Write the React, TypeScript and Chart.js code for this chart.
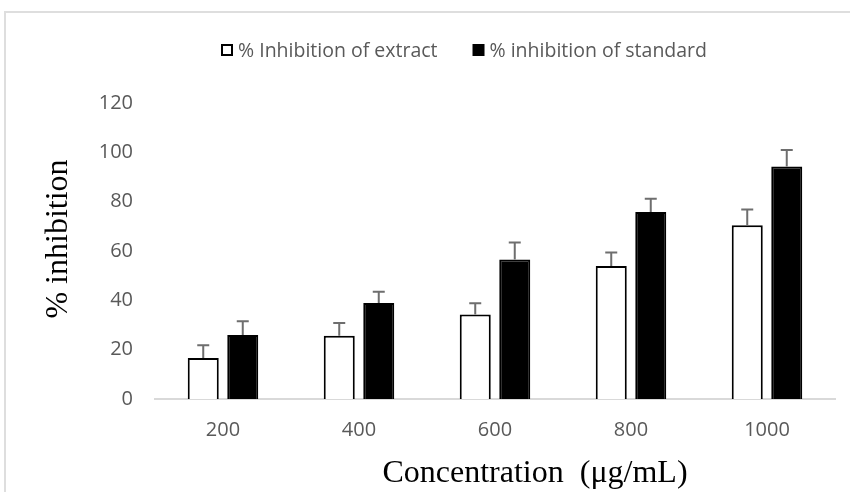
import React, { useEffect, useRef } from 'react';
import { Chart, registerables } from 'chart.js';

Chart.register(...registerables);

const categories = ['200', '400', '600', '800', '1000'];
const extractValues = [16.6, 25.6, 34.3, 53.9, 70.4];
const extractErrors = [5.2, 5.2, 4.5, 5.5, 6.4];
const standardValues = [25.9, 38.9, 56.6, 75.8, 94.3];
const standardErrors = [5.6, 4.6, 6.8, 5.4, 6.6];
const yTicks = [0, 20, 40, 60, 80, 100, 120];
const seriesNames = ['% Inhibition of extract', '% inhibition of standard'];
const xTitle = 'Concentration  (\u03bcg/mL)';
const yTitle = '% inhibition';

const TEXT_GRAY = '#595959';
const SANS = "'Open Sans', sans-serif";
const SERIF = "'Liberation Serif', 'Times New Roman', serif";

const errorBarPlugin = {
  id: 'errorBars',
  afterDatasetsDraw(chart: any) {
    const ctx = chart.ctx;
    const yScale = chart.scales.y;
    chart.data.datasets.forEach((ds: any, di: number) => {
      const meta = chart.getDatasetMeta(di);
      meta.data.forEach((bar: any, i: number) => {
        const top = yScale.getPixelForValue(ds.data[i] + ds.errors[i]);
        ctx.save();
        ctx.strokeStyle = '#6e6e6e';
        ctx.lineWidth = 2;
        ctx.beginPath();
        ctx.moveTo(bar.x, bar.y);
        ctx.lineTo(bar.x, top);
        ctx.moveTo(bar.x - 6, top);
        ctx.lineTo(bar.x + 6, top);
        ctx.stroke();
        ctx.restore();
      });
    });
  },
};

const titlesPlugin = {
  id: 'customTitles',
  afterDraw(chart: any) {
    const ctx = chart.ctx;
    const area = chart.chartArea;
    ctx.save();
    ctx.fillStyle = '#000000';
    ctx.font = `32px ${SERIF}`;
    ctx.textAlign = 'center';
    ctx.textBaseline = 'alphabetic';
    ctx.fillText(xTitle, (area.left + area.right) / 2 + 40, 482);
    ctx.translate(59, (area.top + area.bottom) / 2 - 12);
    ctx.rotate(-Math.PI / 2);
    ctx.textBaseline = 'middle';
    ctx.fillText(yTitle, 0, 0);
    ctx.restore();
  },
};

const legendPlugin = {
  id: 'customLegend',
  afterDraw(chart: any) {
    const ctx = chart.ctx;
    ctx.save();
    ctx.font = `19.5px ${SANS}`;
    ctx.textBaseline = 'middle';
    ctx.textAlign = 'left';
    let x = 221;
    const cy = 50;
    chart.data.datasets.forEach((ds: any, i: number) => {
      const box = 12;
      if (i === 0) {
        ctx.fillStyle = '#ffffff';
        ctx.fillRect(x, cy - box / 2, box, box);
        ctx.strokeStyle = '#000000';
        ctx.lineWidth = 2;
        ctx.strokeRect(x + 1, cy - box / 2 + 1, box - 2, box - 2);
      } else {
        ctx.fillStyle = '#000000';
        ctx.fillRect(x, cy - box / 2, box, box);
      }
      x += box + 5;
      ctx.fillStyle = TEXT_GRAY;
      ctx.fillText(ds.label, x, cy + 1);
      x += ctx.measureText(ds.label).width + 35;
    });
    ctx.restore();
  },
};

export default function App() {
  const canvasRef = useRef<HTMLCanvasElement | null>(null);

  useEffect(() => {
    if (!canvasRef.current) return;
    const chart = new Chart(canvasRef.current, {
      type: 'bar',
      data: {
        labels: categories,
        datasets: [
          {
            label: seriesNames[0],
            data: extractValues,
            errors: extractErrors,
            backgroundColor: '#ffffff',
            borderColor: '#000000',
            borderWidth: 2,
            categoryPercentage: 0.581,
            barPercentage: 0.785,
          } as any,
          {
            label: seriesNames[1],
            data: standardValues,
            errors: standardErrors,
            backgroundColor: '#000000',
            borderColor: '#000000',
            borderWidth: 2,
            categoryPercentage: 0.581,
            barPercentage: 0.785,
          } as any,
        ],
      },
      options: {
        responsive: false,
        animation: false,
        layout: { padding: { top: 103, right: 15, bottom: 0, left: 0 } },
        plugins: {
          legend: { display: false },
          tooltip: { enabled: false },
          title: { display: false },
        },
        scales: {
          x: {
            grid: { display: false, drawTicks: false },
            border: { display: true, color: '#d9d9d9', width: 2 },
            ticks: {
              color: TEXT_GRAY,
              font: { family: SANS, size: 20 },
              padding: 19,
            },
            afterFit: (s: any) => {
              s.height = 93;
            },
          },
          y: {
            min: 0,
            max: 120,
            grid: { display: false, drawTicks: false },
            border: { display: false },
            afterBuildTicks: (s: any) => {
              s.ticks = yTicks.map((v) => ({ value: v }));
            },
            ticks: {
              color: TEXT_GRAY,
              font: { family: SANS, size: 20 },
              padding: 22,
            },
            afterFit: (s: any) => {
              s.width = 155;
            },
          },
        },
      },
      plugins: [errorBarPlugin, titlesPlugin, legendPlugin],
    });
    return () => chart.destroy();
  }, []);

  return (
    <div
      style={{
        position: 'fixed',
        left: 0,
        top: 0,
        width: 850,
        height: 492,
        overflow: 'hidden',
        background: '#ffffff',
      }}
    >
      <canvas
        ref={canvasRef}
        width={850}
        height={492}
        style={{ position: 'absolute', left: 0, top: 0, width: 850, height: 492 }}
      />
      <div
        style={{
          position: 'absolute',
          left: 4,
          top: 11,
          width: 900,
          height: 600,
          borderTop: '2px solid #dedede',
          borderLeft: '2px solid #dedede',
          pointerEvents: 'none',
        }}
      />
    </div>
  );
}
